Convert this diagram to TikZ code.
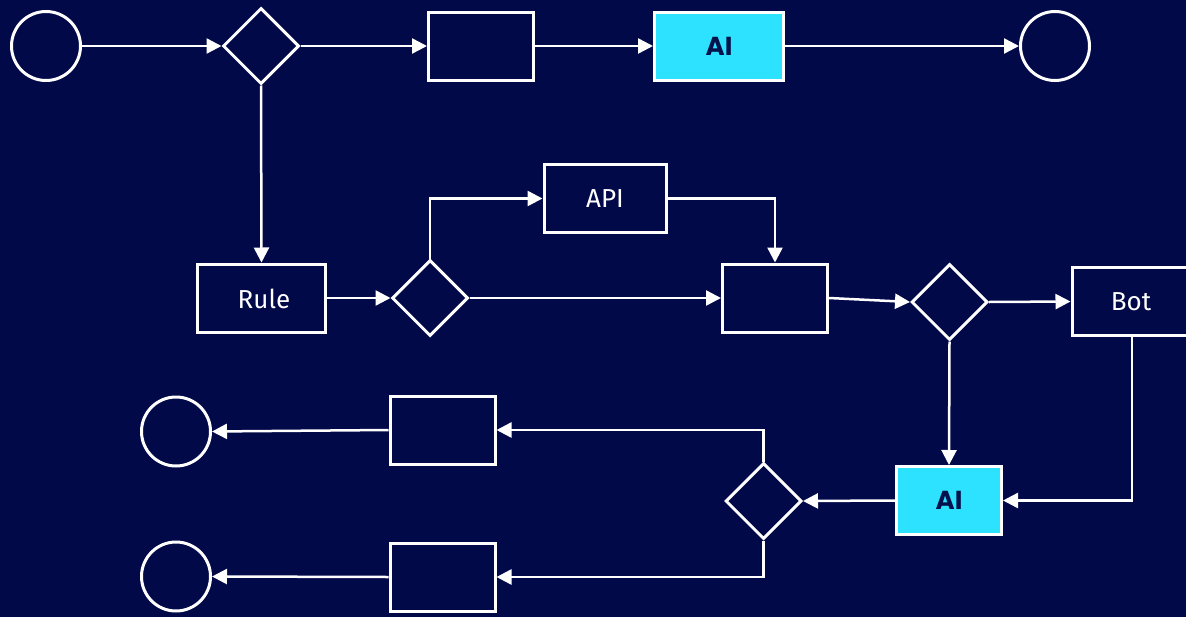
\documentclass[tikz,border=0pt]{standalone}
\usepackage{fontspec}
\setmainfont{Fira Sans}
\newfontfamily\aifont{Poppins}
\usetikzlibrary{shapes.geometric,arrows.meta}
\definecolor{bg}{RGB}{1,9,72}
\definecolor{aicyan}{RGB}{45,226,255}
\definecolor{aitext}{RGB}{3,18,76}
\tikzset{
  shp/.style={draw=white,line width=3pt,inner sep=0pt,text=white,font=\fontsize{26}{30}\selectfont},
  lbl/.style={inner sep=0pt,text=white,font=\fontsize{26}{30}\selectfont},
  endc/.style={shp,circle,minimum size=69pt},
  dec/.style={shp,diamond,minimum width=76pt,minimum height=76pt,aspect=1},
  box/.style={shp,rectangle,minimum width=105pt,minimum height=68pt},
  aibox/.style={box,fill=aicyan,text=aitext,font=\aifont\bfseries\fontsize{26}{30}\selectfont},
  conn/.style={draw=white,line width=2.5pt,-{Triangle[length=15pt,width=15pt]}}
}
\begin{document}
\begin{tikzpicture}[x=1pt,y=-1pt]
\useasboundingbox (0,0) rectangle (1186,616);
\fill[bg] (-6,-6) rectangle (1192,622);
% top row
\node[endc] (c1) at (46,46) {};
\node[dec] (d1) at (261,46) {};
\node[box] (r1) at (481,46) {};
\node[aibox,minimum width=129pt] (ai1) at (719,46) {AI};
\node[endc] (c2) at (1055,46) {};
% middle row
\node[box,minimum width=128pt] (rule) at (261.5,298) {};
\node[lbl] (rulet) at (264,299) {Rule};
\node[dec] (d2) at (430,298) {};
\node[box,minimum width=122pt] (api) at (605,198.5) {API};
\node[box] (r3) at (775,298) {};
\node[dec] (d3) at (949.5,302) {};
\node[box,minimum width=121pt,anchor=west] (bot) at (1070.5,301.5) {};
\node[lbl] (bott) at (1131,302) {Bot};
% bottom rows
\node[aibox] (ai2) at (949,500.5) {AI};
\node[dec] (d4) at (763.5,501) {};
\node[box] (r4) at (442.5,430) {};
\node[box] (r5) at (442.5,577) {};
\node[endc] (c4) at (176,431.5) {};
\node[endc] (c5) at (176,576.5) {};
\coordinate (botdown) at (1132,337);
% connectors
\draw[conn] (c1) -- (d1.west);
\draw[conn] (d1.east) -- (r1.west);
\draw[conn] (r1.east) -- (ai1.west);
\draw[conn] (ai1.east) -- (c2.west);
\draw[conn] (d1.south) -- (rule.north);
\draw[conn] (rule.east) -- (d2.west);
\draw[conn] (d2.north) |- (api.west);
\draw[conn] (api.east) -| (r3.north);
\draw[conn] (d2.east) -- (r3.west);
\draw[conn] (r3.east) -- (d3.west);
\draw[conn] (d3.east) -- (bot.west);
\draw[conn] (d3.south) -- (ai2.north);
\draw[conn] (botdown) |- (ai2.east);
\draw[conn] (ai2.west) -- (d4.east);
\draw[conn] (d4.north) |- (r4.east);
\draw[conn] (d4.south) |- (r5.east);
\draw[conn] (r4.west) -- (c4.east);
\draw[conn] (r5.west) -- (c5.east);
\end{tikzpicture}
\end{document}
